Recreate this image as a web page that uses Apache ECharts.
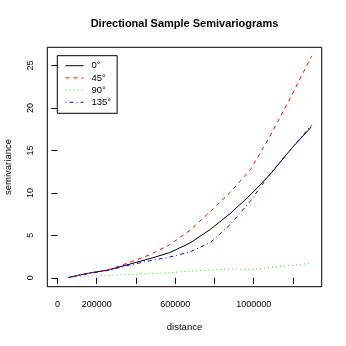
<!DOCTYPE html>
<html>
<head>
<meta charset="utf-8">
<script src="https://cdn.jsdelivr.net/npm/echarts@6/dist/echarts.min.js"></script>
<style>html,body{margin:0;padding:0;background:#fff}#c{width:346px;height:346px}</style>
</head>
<body>
<div id="c"></div>
<script>
var distances = [56000, 159200, 262400, 365700, 468900, 572100, 675300, 778500, 881700, 985000, 1088200, 1191400, 1294600];
var seriesNames = ['0°', '45°', '90°', '135°'];
var gamma0 = [0.04, 0.55, 0.94, 1.6, 2.25, 2.97, 4.1, 5.7, 7.6, 9.8, 12.3, 15.2, 17.8];
var gamma45 = [0.05, 0.55, 0.95, 1.8, 2.7, 3.9, 5.6, 7.8, 10.1, 12.8, 16.9, 21.4, 26.1];
var gamma90 = [0.05, 0.2, 0.3, 0.4, 0.5, 0.6, 0.8, 0.9, 1.05, 0.95, 1.25, 1.45, 1.7];
var gamma135 = [0.05, 0.5, 0.9, 1.5, 2.0, 2.45, 3.05, 4.15, 6.3, 9.1, 12.4, 15.2, 18.0];
var xTicks = [0, 200000, 400000, 600000, 800000, 1000000, 1200000];
var xLabels = [0, 200000, 600000, 1000000];
var yTicks = [0, 5, 10, 15, 20, 25];

function pairs(ys) { return distances.map(function (d, i) { return [d, ys[i]]; }); }
var xmax = 1294600, ymax = 26.1;
var font = 'Liberation Sans, Arial, Helvetica, sans-serif';
var chart = echarts.init(document.getElementById('c'), null, {renderer: 'canvas'});
var styles = [
  {color: '#000000', type: 'solid'},
  {color: '#FF0000', type: [4, 4]},
  {color: '#33D633', type: [1, 3]},
  {color: '#0000FF', type: [1, 3, 4, 3]}
];
var data = [gamma0, gamma45, gamma90, gamma135];
chart.setOption({
  animation: false,
  backgroundColor: '#ffffff',
  title: {
    text: 'Directional Sample Semivariograms',
    left: 184.5, top: 18, padding: 0, textAlign: 'center',
    textStyle: {fontFamily: font, fontSize: 11, fontWeight: 'bold', color: '#000'}
  },
  legend: {
    orient: 'vertical', left: 57.3, top: 55.7,
    padding: [5, 6, 6, 7.7],
    borderColor: '#000', borderWidth: 1, borderRadius: 0,
    itemWidth: 18, itemHeight: 10, itemGap: 2.2,
    itemStyle: {opacity: 0},
    lineStyle: {width: 1},
    textStyle: {fontFamily: font, fontSize: 9.5, color: '#000', padding: [0, 0, 0, 3]},
    data: seriesNames
  },
  grid: {left: 47.3, right: 24.3, top: 47.3, bottom: 59.3, show: true, borderColor: '#000', borderWidth: 1, containLabel: false, outerBoundsMode: 'none'},
  xAxis: {
    type: 'value', min: -0.04 * xmax, max: 1.04 * xmax,
    name: 'distance', nameLocation: 'middle', nameGap: 36,
    nameTextStyle: {fontFamily: font, fontSize: 9.5, color: '#000'},
    axisLine: {show: false},
    axisTick: {show: true, inside: false, length: 6, customValues: xTicks, lineStyle: {color: '#000'}},
    axisLabel: {customValues: xLabels, fontFamily: font, fontSize: 9, color: '#000', margin: 13, formatter: function (v) { return String(v); }},
    splitLine: {show: false}
  },
  yAxis: {
    type: 'value', min: -0.04 * ymax, max: 1.04 * ymax,
    name: 'semivariance', nameLocation: 'middle', nameGap: 34,
    nameTextStyle: {fontFamily: font, fontSize: 9.5, color: '#000'},
    axisLine: {show: false},
    axisTick: {show: true, inside: false, length: 6, customValues: yTicks, lineStyle: {color: '#000'}},
    axisLabel: {customValues: yTicks, rotate: 90, fontFamily: font, fontSize: 9, color: '#000', margin: 12},
    splitLine: {show: false}
  },
  series: seriesNames.map(function (n, i) {
    return {
      name: n, type: 'line', data: pairs(data[i]), symbol: 'none', showSymbol: false,
      lineStyle: {color: styles[i].color, width: 1, type: styles[i].type},
      itemStyle: {color: styles[i].color}
    };
  })
});
</script>
</body>
</html>
